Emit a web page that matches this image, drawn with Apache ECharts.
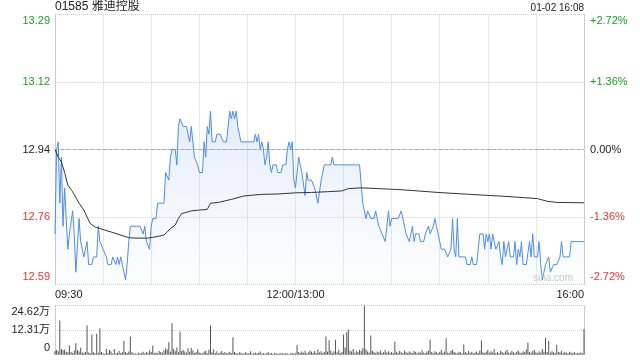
<!DOCTYPE html>
<html>
<head>
<meta charset="utf-8">
<script src="https://cdn.jsdelivr.net/npm/echarts@6/dist/echarts.min.js"></script>
<style>
html,body{margin:0;padding:0;background:#fff;}
#chart{width:640px;height:360px;}
</style>
</head>
<body>
<div id="chart"></div>
<script>
// ---- data ----
const stockTitle = '01585 雅迪控股';
const stampText = '01-02 16:08';
const prevClose = 12.94;
const pctRange = 2.72;
const timeLabels = ['09:30', '12:00/13:00', '16:00'];
const volumeMax = 24.62; // 万

// one point per minute: 09:30..12:00 (151) + 13:01..16:00 (180)
const prices = [
  12.72,12.94,12.96,12.80,12.92,12.74,12.84,12.84,12.68,12.72,
  12.72,12.78,12.72,12.62,12.62,12.76,12.70,12.68,12.66,12.68,
  12.70,12.64,12.64,12.64,12.66,12.66,12.66,12.74,12.70,12.70,
  12.68,12.68,12.66,12.64,12.64,12.64,12.66,12.66,12.64,12.66,
  12.64,12.66,12.64,12.62,12.60,12.64,12.70,12.74,12.74,12.74,
  12.74,12.74,12.74,12.74,12.74,12.72,12.74,12.70,12.70,12.68,
  12.74,12.76,12.76,12.76,12.80,12.80,12.80,12.80,12.80,12.88,
  12.88,12.86,12.92,12.94,12.94,12.94,12.90,13.00,13.02,13.02,
  13.00,13.00,13.00,12.98,12.96,13.00,13.00,12.92,12.92,12.90,
  12.88,12.88,12.88,12.96,12.92,13.00,12.98,13.04,12.96,12.96,
  12.96,12.98,12.98,12.98,12.98,12.96,12.96,12.96,12.96,13.04,
  13.02,13.04,13.02,13.04,13.00,12.98,12.96,12.96,12.96,12.96,
  12.96,12.96,12.96,12.96,12.96,12.98,12.96,12.98,12.94,12.96,
  12.94,12.90,12.92,12.96,12.90,12.88,12.90,12.90,12.90,12.88,
  12.88,12.88,12.90,12.90,12.90,12.94,12.96,12.94,12.96,12.86,
  12.84,12.84,12.92,12.92,12.88,12.88,12.82,12.88,12.86,12.86,
  12.86,12.86,12.84,12.84,12.80,12.80,12.86,12.86,12.90,12.90,
  12.90,12.90,12.90,12.92,12.90,12.90,12.90,12.90,12.90,12.90,
  12.90,12.90,12.90,12.90,12.90,12.90,12.90,12.90,12.90,12.90,
  12.90,12.90,12.80,12.78,12.76,12.78,12.78,12.76,12.76,12.76,
  12.78,12.76,12.74,12.74,12.72,12.72,12.70,12.74,12.78,12.74,
  12.76,12.76,12.76,12.76,12.76,12.76,12.78,12.76,12.74,12.72,
  12.72,12.70,12.72,12.74,12.70,12.72,12.72,12.72,12.70,12.70,
  12.70,12.72,12.72,12.74,12.72,12.72,12.74,12.76,12.74,12.74,
  12.70,12.68,12.68,12.68,12.68,12.66,12.66,12.68,12.76,12.68,
  12.66,12.76,12.66,12.66,12.66,12.66,12.66,12.64,12.64,12.64,
  12.66,12.64,12.64,12.64,12.68,12.72,12.72,12.72,12.68,12.72,
  12.70,12.72,12.68,12.72,12.70,12.68,12.68,12.70,12.66,12.64,
  12.70,12.66,12.66,12.70,12.66,12.66,12.66,12.70,12.64,12.68,
  12.66,12.70,12.64,12.64,12.64,12.64,12.70,12.66,12.72,12.66,
  12.66,12.66,12.70,12.64,12.60,12.62,12.64,12.64,12.66,12.62,
  12.62,12.64,12.64,12.64,12.64,12.66,12.70,12.66,12.66,12.66,
  12.66,12.66,12.70,12.70,12.70,12.70,12.70,12.70,12.70,12.70,
  12.70
];

// average price line, read at these minute indices
const avgMinutes = [0,2,4,6,8,11,15,18,20,22,25,28,31,35,40,46,50,58,61,65,68,70,72,75,77,79,81,85,90,95,97,102,110,118,129,139,150,160,170,179,183,191,202,212,220,239,259,280,301,307,313,330];
const avgValues = [12.94,12.92,12.908,12.88,12.847,12.83,12.80,12.782,12.764,12.747,12.738,12.734,12.73,12.725,12.718,12.71,12.709,12.709,12.711,12.714,12.717,12.725,12.734,12.743,12.76,12.773,12.775,12.78,12.782,12.784,12.80,12.802,12.81,12.819,12.823,12.824,12.827,12.828,12.83,12.832,12.838,12.84,12.838,12.836,12.834,12.828,12.823,12.818,12.812,12.805,12.802,12.801];

// volume per minute, in 万 shares
const volumes = [
  1.8,2.4,1.6,17.1,2.6,2.2,2.5,1.4,1.1,4.5,
  1.2,0.8,2.0,5.7,2.2,1.5,3.4,1.0,0.9,1.3,
  14.6,1.0,0.7,10.0,1.1,0.6,10.4,0.9,13.2,1.2,
  0.6,0.4,2.9,0.8,2.2,1.5,0.5,2.8,0.6,0.9,
  1.9,0.7,1.1,6.9,1.2,0.8,1.5,9.0,1.3,0.5,
  0.6,0.3,1.0,0.5,0.7,1.4,0.6,1.2,0.9,2.1,
  1.3,4.5,0.8,1.0,0.6,1.7,1.2,0.9,2.0,3.1,
  2.5,6.2,1.4,15.7,2.8,1.6,3.5,1.1,11.6,1.8,
  2.2,1.5,0.9,3.2,1.4,3.3,2.0,0.8,1.2,2.6,
  1.0,0.7,0.5,1.5,1.9,0.6,2.4,14.6,1.1,2.7,
  0.8,1.6,0.5,1.0,1.8,0.7,1.3,0.6,0.9,1.4,
  0.8,8.7,1.2,0.7,0.5,1.1,0.9,0.4,0.6,1.3,
  0.5,0.8,1.6,0.4,0.7,1.0,0.6,0.9,1.5,0.5,
  0.8,0.4,0.6,1.2,0.5,0.7,0.3,0.9,0.6,0.4,
  0.5,0.8,0.6,0.4,0.7,0.5,0.3,0.6,0.8,0.5,
  0.6,4.9,1.2,0.8,1.5,0.9,1.8,0.6,1.1,2.0,
  1.4,0.9,1.7,0.7,2.5,1.0,1.6,0.8,1.3,9.0,
  1.5,7.2,2.0,0.9,1.6,7.4,1.1,2.4,0.8,1.3,
  10.0,3.5,11.2,12.4,2.0,1.5,2.8,0.9,1.7,1.2,
  2.4,1.8,3.2,24.62,2.6,1.5,1.0,9.5,1.9,1.2,
  0.8,1.5,1.1,2.0,0.7,1.3,2.2,1.0,1.6,0.9,
  1.2,0.8,6.5,1.4,0.9,1.7,1.1,0.6,2.0,1.3,
  0.7,1.5,1.0,0.8,1.9,1.2,0.6,1.4,0.9,2.1,
  1.0,0.7,1.5,2.0,7.4,1.2,0.8,1.6,1.1,0.6,
  1.3,2.2,0.9,1.5,8.2,1.0,0.7,1.8,2.4,1.2,
  0.9,0.6,1.4,1.1,0.5,5.0,1.3,0.8,1.7,0.9,
  1.2,0.6,1.0,1.5,0.8,2.0,7.0,1.1,0.7,1.4,
  2.2,0.9,1.6,1.0,2.6,0.8,1.3,0.6,1.9,1.2,
  0.7,1.5,2.4,1.0,0.9,1.8,1.1,0.6,1.4,2.0,
  1.0,0.8,1.6,1.2,2.5,5.9,1.3,0.9,1.7,2.2,
  1.1,0.7,1.5,1.0,2.8,1.4,8.4,1.2,6.8,0.9,
  1.6,1.1,0.8,4.9,1.3,1.0,1.9,0.7,1.2,0.9,
  0.6,1.4,1.0,0.8,1.2,0.5,0.9,0.7,1.1,0.6,
  12.8
];

// ---- minute categories ----
const categories = [];
function pad(n){ return (n < 10 ? '0' : '') + n; }
for (let i = 0; i < prices.length; i++) {
  const t = i <= 150 ? 9 * 60 + 30 + i : 13 * 60 + (i - 150);
  categories.push(pad(Math.floor(t / 60)) + ':' + pad(t % 60));
}
const labelIdx = [0, 150, prices.length - 1];

const priceMin = prevClose * (1 - pctRange / 100);
const priceMax = prevClose * (1 + pctRange / 100);
const priceStep = (priceMax - priceMin) / 4;

const GREEN = '#1a9f1a', RED = '#f03030', BLACK = '#222';
const FONT = "Arial, 'Liberation Sans', 'Noto Sans CJK SC', sans-serif";

const richStyles = {
  g: { color: GREEN, fontSize: 11, fontFamily: FONT },
  r: { color: RED, fontSize: 11, fontFamily: FONT },
  k: { color: BLACK, fontSize: 11, fontFamily: FONT },
  gt: { color: GREEN, fontSize: 11, fontFamily: FONT, padding: [12, 0, 0, 0] },
  rb: { color: RED, fontSize: 11, fontFamily: FONT, padding: [0, 0, 15, 0] },
  kt: { color: BLACK, fontSize: 11, fontFamily: FONT, padding: [13, 0, 0, 0] },
  kb: { color: BLACK, fontSize: 11, fontFamily: FONT, padding: [0, 0, 13, 0] }
};

function near(a, b) { return Math.abs(a - b) < 1e-6; }

const chart = echarts.init(document.getElementById('chart'), null, { renderer: 'canvas' });

chart.setOption({
  animation: false,
  textStyle: { fontFamily: FONT },
  title: [
    { text: stockTitle, left: 55, top: 1, padding: 0,
      textStyle: { fontSize: 12, fontWeight: 'normal', color: BLACK, fontFamily: FONT } },
    { text: stampText, right: 56, top: 3, padding: 0,
      textStyle: { fontSize: 10, fontWeight: 'normal', color: BLACK, fontFamily: FONT } },
    { text: 'sina.com', right: 67, top: 273, padding: 0,
      textStyle: { fontSize: 10, fontWeight: 'normal', color: '#c8c8c8', fontFamily: FONT } }
  ],
  grid: [
    { left: 55, right: 56, top: 14.5, height: 270 },
    { left: 55, right: 56, top: 305.5, height: 49 }
  ],
  xAxis: [
    {
      type: 'category', gridIndex: 0, data: categories, boundaryGap: false,
      axisLine: { show: true, lineStyle: { color: '#ccc', width: 1 } },
      axisTick: { show: false },
      axisLabel: {
        interval: function (idx) { return labelIdx.indexOf(idx) >= 0; },
        formatter: function (v, idx) { return timeLabels[labelIdx.indexOf(idx)] || ''; },
        color: BLACK, fontSize: 11, margin: 5, fontFamily: FONT,
        alignMinLabel: 'left', alignMaxLabel: 'right'
      },
      splitLine: { show: true, interval: 29, lineStyle: { type: 'dotted', color: '#d4d4d4', width: 1 } }
    },
    {
      type: 'category', gridIndex: 1, data: categories, boundaryGap: false,
      axisLine: { show: true, lineStyle: { color: '#ccc', width: 1 } },
      axisTick: { show: false },
      axisLabel: { show: false },
      splitLine: { show: false }
    }
  ],
  yAxis: [
    {
      type: 'value', gridIndex: 0, position: 'left',
      min: priceMin, max: priceMax, interval: priceStep,
      axisLine: { show: true, lineStyle: { color: '#ccc', width: 1 } },
      axisTick: { show: false },
      axisLabel: {
        margin: 5,
        formatter: function (v) {
          const s = v.toFixed(2);
          if (near(v, priceMax)) return '{gt|' + s + '}';
          if (near(v, priceMin)) return '{rb|' + s + '}';
          if (near(v, prevClose)) return '{k|' + s + '}';
          return (v > prevClose ? '{g|' : '{r|') + s + '}';
        },
        rich: richStyles
      },
      splitLine: { show: true, lineStyle: { type: 'dotted', width: 1,
        color: ['#ccc', '#d4d4d4', 'rgba(0,0,0,0)', '#d4d4d4', 'rgba(0,0,0,0)'] } }
    },
    {
      type: 'value', gridIndex: 0, position: 'right',
      min: -pctRange, max: pctRange, interval: pctRange / 2,
      axisLine: { show: true, lineStyle: { color: '#ccc', width: 1 } },
      axisTick: { show: false },
      axisLabel: {
        margin: 6,
        formatter: function (v) {
          if (Math.abs(v) < 1e-9) return '{k|0.00%}';
          const s = (v > 0 ? '+' : '') + v.toFixed(2) + '%';
          if (near(v, pctRange)) return '{gt|' + s + '}';
          if (near(v, -pctRange)) return '{rb|' + s + '}';
          return (v > 0 ? '{g|' : '{r|') + s + '}';
        },
        rich: richStyles
      },
      splitLine: { show: false }
    },
    {
      type: 'value', gridIndex: 1, position: 'left',
      min: 0, max: volumeMax, interval: volumeMax / 2,
      axisLine: { show: true, lineStyle: { color: '#ccc', width: 1 } },
      axisTick: { show: false },
      axisLabel: {
        margin: 5,
        formatter: function (v) {
          if (Math.abs(v) < 1e-9) return '{kb|0}';
          const s = v.toFixed(2) + '万';
          if (near(v, volumeMax)) return '{kt|' + s + '}';
          return '{k|' + s + '}';
        },
        rich: richStyles
      },
      splitLine: { show: true, lineStyle: { type: 'dotted', width: 1,
        color: ['rgba(0,0,0,0)', '#ccc', '#ccc'] } }
    },
    {
      type: 'value', gridIndex: 1, position: 'right',
      min: 0, max: volumeMax, interval: volumeMax / 2,
      axisLine: { show: true, lineStyle: { color: '#ccc', width: 1 } },
      axisTick: { show: false },
      axisLabel: { show: false },
      splitLine: { show: false }
    }
  ],
  series: [
    {
      name: 'price', type: 'line', xAxisIndex: 0, yAxisIndex: 0,
      data: prices, showSymbol: false, symbol: 'none',
      lineStyle: { color: '#4b8cf0', width: 1 },
      areaStyle: {
        origin: 'start',
        color: new echarts.graphic.LinearGradient(0, 0, 0, 1, [
          { offset: 0, color: 'rgba(90,140,225,0.22)' },
          { offset: 1, color: 'rgba(90,140,225,0.02)' }
        ])
      },
      markLine: {
        silent: true, symbol: 'none', label: { show: false },
        lineStyle: { color: '#aaa', type: [3, 3], width: 1 },
        data: [{ yAxis: prevClose }]
      },
      z: 3
    },
    {
      name: 'avg', type: 'line', xAxisIndex: 0, yAxisIndex: 0,
      data: avgMinutes.map(function (m, i) { return [m, avgValues[i]]; }),
      showSymbol: false, symbol: 'none',
      lineStyle: { color: '#333', width: 1 },
      z: 4
    },
    {
      name: 'volume', type: 'bar', xAxisIndex: 1, yAxisIndex: 2,
      data: volumes, barWidth: 1,
      itemStyle: { color: '#555' }
    }
  ]
});
</script>
</body>
</html>
